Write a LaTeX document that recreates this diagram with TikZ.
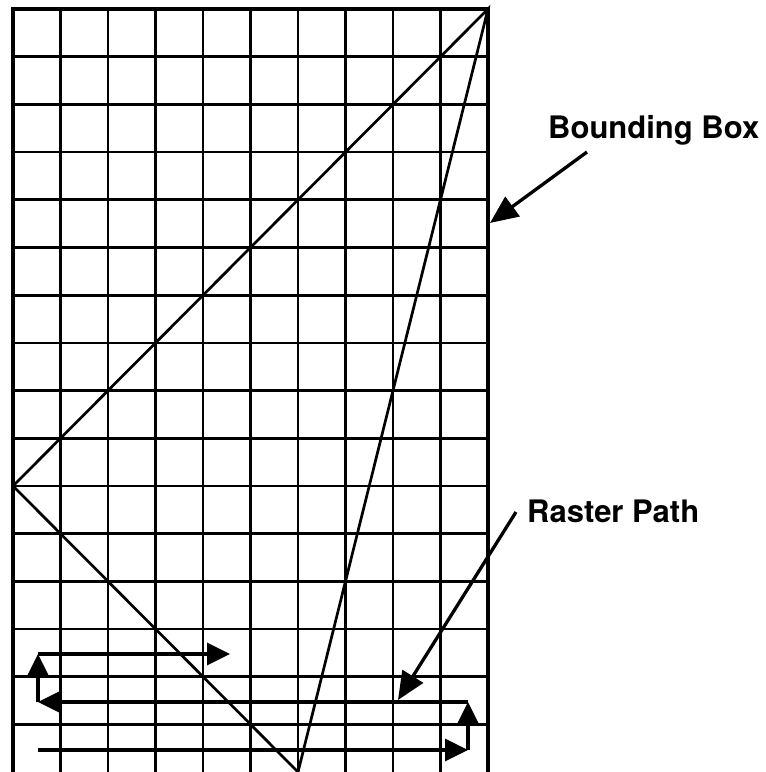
\documentclass[tikz,border=0pt]{standalone}
\usepackage{fontspec}
\setmainfont{TeX Gyre Heros}
\usetikzlibrary{arrows.meta}
\tikzset{
  gridline/.style={line width=2.7pt},
  frameline/.style={line width=3.8pt},
  shapeline/.style={line width=2.7pt, line join=miter},
  rasterline/.style={line width=3.3pt, -{Triangle[length=23pt,width=22pt]}},
  calloutarrow/.style={line width=3.3pt, -{Triangle[length=28pt,width=24pt]}},
  calloutlabel/.style={anchor=base west, inner sep=0pt, font=\fontsize{31}{31}\selectfont\bfseries},
}
\begin{document}
\begin{tikzpicture}[x=1pt,y=-1pt]
\useasboundingbox (0,0) rectangle (766,772);
\begin{scope}
\clip (0,0) rectangle (766,772);
% grid
\foreach \i in {1,...,9} {
  \draw[gridline] ({13+47.5*\i},9) -- ({13+47.5*\i},775);
}
\foreach \j in {1,...,15} {
  \draw[gridline] (13,{9+47.7*\j}) -- (488,{9+47.7*\j});
}
% frame
\draw[frameline] (13,775) -- (13,9) -- (488,9) -- (488,775);
% triangle
\coordinate (tA) at (488,9);
\coordinate (tB) at (13,486);
\coordinate (tC) at (298,772);
\draw[shapeline] (tA) -- (tB) -- (tC) -- cycle;
\end{scope}
% raster path
\coordinate (r0) at (38,750);
\coordinate (r1) at (468,750);
\coordinate (r2) at (468,702);
\coordinate (r3) at (38,702);
\coordinate (r4) at (38,654);
\coordinate (r5) at (230,654);
\draw[rasterline] (r0) -- (r1);
\draw[rasterline] (r1) -- (r2);
\draw[rasterline] (r2) -- (r3);
\draw[rasterline] (r3) -- (r4);
\draw[rasterline] (r4) -- (r5);
% labels
\node[calloutlabel] (bb) at (548,138) {Bounding Box};
\node[calloutlabel] (rp) at (527,522) {Raster Path};
\coordinate (bbstart) at (587,152);
\coordinate (bbtip) at (490,223);
\coordinate (rpstart) at (516,512);
\coordinate (rptip) at (398,700);
\draw[calloutarrow] (bbstart) -- (bbtip);
\draw[calloutarrow] (rpstart) -- (rptip);
\end{tikzpicture}
\end{document}
